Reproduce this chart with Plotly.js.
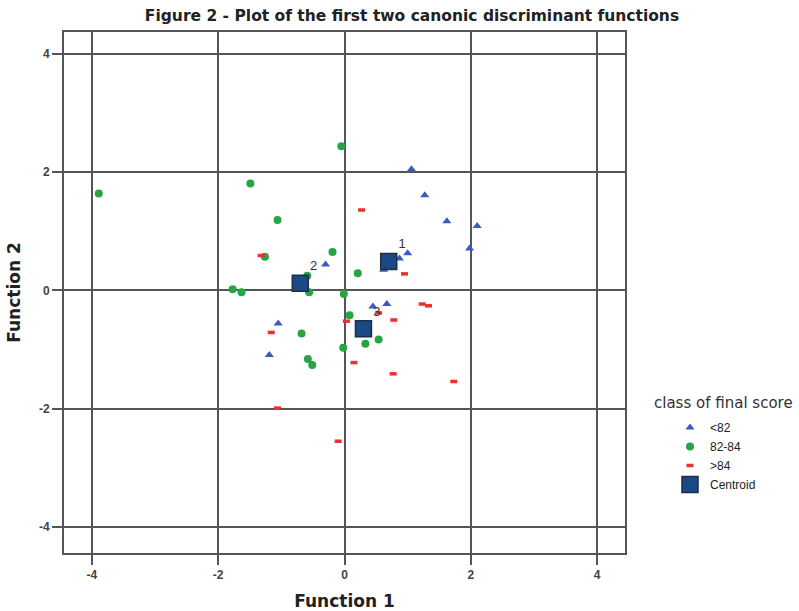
<!DOCTYPE html>
<html>
<head>
<meta charset="utf-8">
<script src="https://cdn.plot.ly/plotly-3.0.1.min.js"></script>
<style>html,body{margin:0;padding:0;background:#fff;}#chart{width:799px;height:611px;}</style>
</head>
<body>
<div id="chart"></div>
<script>
// Group <82 (blue triangles)
const lowX = [1.06, 1.27, 1.62, 2.10, 1.98, 1.00, 0.87, 0.62, -0.30, 0.45, 0.67, -1.05, -1.19];
const lowY = [2.05, 1.61, 1.17, 1.09, 0.71, 0.63, 0.54, 0.35, 0.44, -0.27, -0.23, -0.56, -1.09];
// Group 82-84 (green circles)
const midX = [-3.89, -1.49, -1.06, -0.05, -1.26, -0.19, 0.21, -1.77, -1.63, -0.56, -0.59, -0.01, -0.68, -0.58, -0.51, -0.02, 0.08, 0.33, 0.54];
const midY = [1.64, 1.81, 1.19, 2.44, 0.57, 0.65, 0.29, 0.02, -0.03, -0.03, 0.25, -0.06, -0.73, -1.16, -1.26, -0.97, -0.42, -0.90, -0.83];
// Group >84 (red dashes)
const highX = [0.27, 0.95, -1.32, 1.23, 1.33, 0.78, 0.03, 0.54, 0.15, 0.77, 1.73, -1.16, -1.06, -0.10];
const highY = [1.36, 0.28, 0.59, -0.23, -0.26, -0.50, -0.52, -0.38, -1.22, -1.41, -1.54, -0.71, -1.99, -2.55];
// Group centroids
const centroidX = [0.70, -0.70, 0.30];
const centroidY = [0.49, 0.12, -0.65];
const centroidLabels = ["1", "2", "3"];
const tickVals = [-4, -2, 0, 2, 4];
const tickText = ["-4", "-2", "0", "2", "4"];

const traces = [
  {x: lowX, y: lowY, type: 'scatter', mode: 'markers', name: '<82',
   marker: {symbol: 'triangle-up', size: 8, color: '#3b5bbd', line: {width: 0}}},
  {x: midX, y: midY, type: 'scatter', mode: 'markers', name: '82-84',
   marker: {symbol: 'circle', size: 8, color: '#27a444', line: {width: 0}}},
  {x: highX, y: highY, type: 'scatter', mode: 'markers', name: '>84',
   marker: {symbol: 'line-ew', size: 5, color: '#e8302c', line: {width: 3.5, color: '#e8302c'}}},
  {x: centroidX, y: centroidY, type: 'scatter', mode: 'markers', name: 'Centroid',
   marker: {symbol: 'square', size: 16, color: '#1a4a85', line: {width: 1.5, color: '#1d2e45'}}},
  {x: centroidX, y: centroidY, type: 'scatter', mode: 'markers+text', text: centroidLabels,
   textposition: 'top right', showlegend: false, hoverinfo: 'skip',
   marker: {size: 14, color: 'rgba(0,0,0,0)', line: {width: 0}},
   textfont: {family: 'Liberation Sans, Arial, sans-serif', size: 13, color: '#333'}}
];

const axisCommon = {
  tickvals: tickVals, ticktext: tickText,
  showgrid: true, gridcolor: '#555', gridwidth: 2,
  zeroline: true, zerolinecolor: '#555', zerolinewidth: 2,
  showline: true, mirror: true, linecolor: '#555', linewidth: 2,
  ticks: 'outside', ticklen: 10, tickwidth: 2, tickcolor: '#555',
  tickfont: {family: 'Liberation Sans, Arial, sans-serif', size: 12, color: '#444', weight: 'bold'}
};

const layout = {
  width: 799, height: 611,
  paper_bgcolor: '#fff', plot_bgcolor: '#fff',
  margin: {l: 64, r: 174, t: 32, b: 58},
  title: {text: '<b>Figure 2 - Plot of the first two canonic discriminant functions</b>',
          font: {family: 'DejaVu Sans, sans-serif', size: 15.5, color: '#222'},
          x: 412/799, xanchor: 'center', xref: 'container', y: 1 - 16/611, yanchor: 'middle', yref: 'container'},
  xaxis: Object.assign({}, axisCommon, {range: [-4.44, 4.44],
    title: {text: '<b>Function 1</b>', standoff: 18,
            font: {family: 'DejaVu Sans, sans-serif', size: 17, color: '#222'}}}),
  yaxis: Object.assign({}, axisCommon, {range: [-4.44, 4.37],
    title: {text: '<b>Function 2</b>', standoff: 14,
            font: {family: 'DejaVu Sans, sans-serif', size: 17, color: '#222'}}}),
  showlegend: true,
  legend: {x: (670 - 64) / 561, y: (553 - 413) / 521, xanchor: 'left', yanchor: 'top',
           bgcolor: 'rgba(0,0,0,0)', itemsizing: 'trace', tracegroupgap: 0,
           font: {family: 'Liberation Sans, Arial, sans-serif', size: 12, color: '#222'}},
  annotations: [{text: 'class of final score', xref: 'paper', yref: 'paper',
                 x: (723 - 64) / 561, y: (553 - 403) / 521, xanchor: 'center', yanchor: 'middle',
                 showarrow: false,
                 font: {family: 'DejaVu Sans, sans-serif', size: 15, color: '#333'}}]
};

Plotly.newPlot('chart', traces, layout, {displayModeBar: false, staticPlot: true});
</script>
</body>
</html>
